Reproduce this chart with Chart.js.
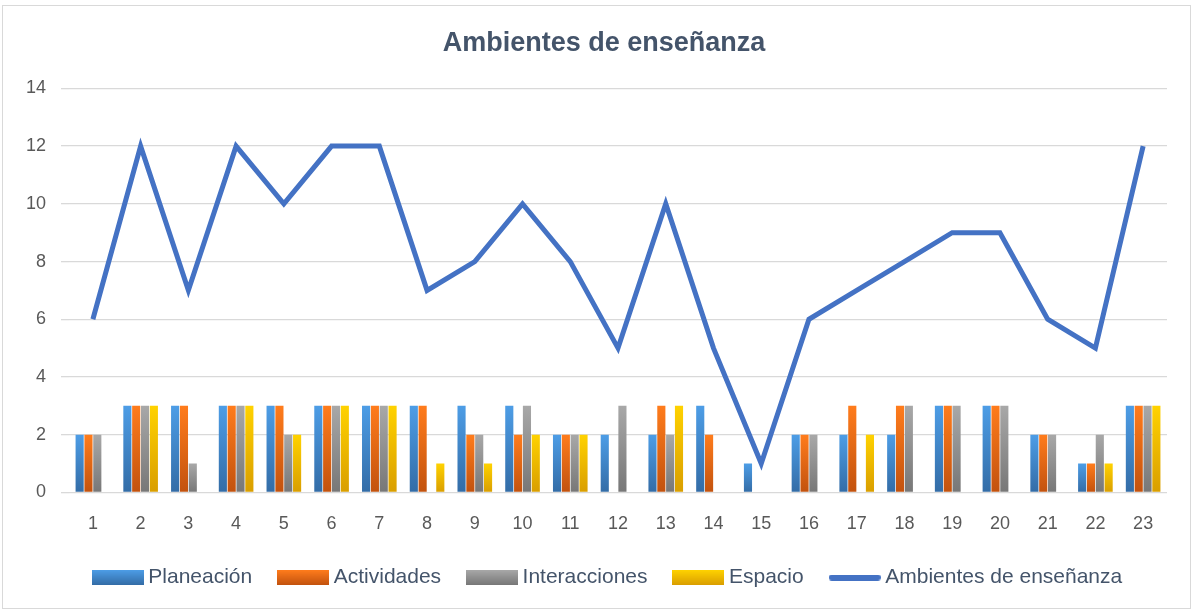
<!DOCTYPE html>
<html>
<head>
<meta charset="utf-8">
<script src="https://cdn.jsdelivr.net/npm/chart.js@4/dist/chart.umd.min.js"></script>
<style>
  html, body { margin: 0; padding: 0; background: #fff; }
  .frame { position: absolute; left: 2px; top: 5px; width: 1189px; height: 604px; border: 1px solid #d9d9d9; box-sizing: border-box; }
  .wrap { position: absolute; left: 0; top: 0; width: 1195px; height: 612px; }
</style>
</head>
<body>
<div class="frame"></div>
<div class="wrap"><canvas id="myChart" width="1195" height="612"></canvas></div>
<script>
const labels = ["1","2","3","4","5","6","7","8","9","10","11","12","13","14","15","16","17","18","19","20","21","22","23"];
const planeacion    = [2,3,3,3,3,3,3,3,3,3,2,2,2,3,1,2,2,2,3,3,2,1,3];
const actividades   = [2,3,3,3,3,3,3,3,2,2,2,0,3,2,0,2,3,3,3,3,2,1,3];
const interacciones = [2,3,1,3,2,3,3,0,2,3,2,3,2,0,0,2,0,3,3,3,2,2,3];
const espacio       = [0,3,0,3,2,3,3,1,1,2,2,0,3,0,0,0,2,0,0,0,0,1,3];
const ambientes     = [6,12,7,12,10,12,12,7,8,10,8,5,10,5,1,6,7,8,9,9,6,5,12];
const yTicks = [0,2,4,6,8,10,12,14];

const colors = {
  blue:   { top: "#4d9de6", bottom: "#336ca6" },
  orange: { top: "#ff7c1c", bottom: "#c2520e" },
  grey:   { top: "#a8a8a8", bottom: "#777777" },
  yellow: { top: "#ffd200", bottom: "#d99e00" },
  line: "#4472c4",
};

// vertical gradient per bar, light on top and darker at the base
const barFill = (c) => (context) => {
  const chart = context.chart;
  const y = chart.scales && chart.scales.y;
  if (!y || context.type !== "data") return c.bottom;
  const v = context.parsed ? context.parsed.y : 0;
  const top = y.getPixelForValue(v);
  const base = y.getPixelForValue(0);
  if (!isFinite(top) || !isFinite(base) || top === base) return c.bottom;
  const g = chart.ctx.createLinearGradient(0, top, 0, base);
  g.addColorStop(0, c.top);
  g.addColorStop(1, c.bottom);
  return g;
};

// legend swatches drawn a bit wider than the legend box so the text sits close
function swatch(c, w, h) {
  const cv = document.createElement("canvas");
  cv.width = w; cv.height = h;
  const x = cv.getContext("2d");
  if (typeof c === "string") {
    x.lineCap = "round";
    x.strokeStyle = c;
    x.lineWidth = h;
    x.beginPath(); x.moveTo(h / 2, h / 2); x.lineTo(w - h / 2, h / 2); x.stroke();
  } else {
    const g = x.createLinearGradient(0, 0, 0, h);
    g.addColorStop(0, c.top);
    g.addColorStop(1, c.bottom);
    x.fillStyle = g;
    x.fillRect(0, 0, w, h);
  }
  return cv;
}

const barSet = (label, data, c) => ({
  type: "bar",
  label: label,
  data: data,
  backgroundColor: barFill(c),
  swatch: swatch(c, 52, 15),
  categoryPercentage: 0.74,
  barPercentage: 0.92,
  order: 1,
});

const data = {
  labels: labels,
  datasets: [
    barSet("Planeación", planeacion, colors.blue),
    barSet("Actividades", actividades, colors.orange),
    barSet("Interacciones", interacciones, colors.grey),
    barSet("Espacio", espacio, colors.yellow),
    {
      type: "line",
      label: "Ambientes de enseñanza",
      data: ambientes,
      borderColor: colors.line,
      backgroundColor: colors.line,
      borderWidth: 5,
      pointRadius: 0,
      tension: 0,
      order: 0,
      swatch: swatch(colors.line, 52, 6),
    },
  ],
};

// title and legend sit slightly right of the plot centre in the original
const nudge = {
  id: "nudge",
  afterLayout(chart) {
    chart.titleBlock.left += 15; chart.titleBlock.right += 15;
    chart.legend.left += 21; chart.legend.right += 21;
  },
};

const config = {
  data: data,
  plugins: [nudge],
  options: {
    responsive: false,
    animation: false,
    layout: { padding: { left: 11, right: 28, top: 12, bottom: 14 } },
    plugins: {
      title: {
        display: true,
        text: "Ambientes de enseñanza",
        color: "#44546a",
        font: { family: "Liberation Sans", size: 27, weight: "bold" },
        padding: { top: 15, bottom: 29 },
      },
      legend: {
        position: "bottom",
        labels: {
          color: "#44546a",
          font: { family: "Liberation Sans", size: 21 },
          usePointStyle: true,
          pointStyleWidth: 40,
          boxHeight: 15,
          padding: 31,
          sort: (a, b) => a.datasetIndex - b.datasetIndex,
          generateLabels: (chart) => {
            const items = Chart.defaults.plugins.legend.labels.generateLabels(chart);
            return items.map((it) => {
              const ds = chart.data.datasets[it.datasetIndex];
              it.pointStyle = ds.swatch;
              it.lineWidth = 0;
              return it;
            });
          },
        },
      },
      tooltip: { enabled: false },
    },
    scales: {
      x: {
        grid: { display: false },
        border: { display: false },
        afterFit: (axis) => { axis.height -= 12; },
        ticks: { color: "#595959", font: { family: "Liberation Sans", size: 18 }, padding: 13 },
      },
      y: {
        min: 0,
        max: 14,
        afterBuildTicks: (axis) => { axis.ticks = yTicks.map((v) => ({ value: v })); },
        grid: { color: "#d9d9d9", lineWidth: 1.3 },
        border: { display: false },
        ticks: { color: "#595959", font: { family: "Liberation Sans", size: 18 }, padding: 15 },
      },
    },
  },
};

const ctx = document.getElementById("myChart").getContext("2d");
new Chart(ctx, config);
</script>
</body>
</html>
